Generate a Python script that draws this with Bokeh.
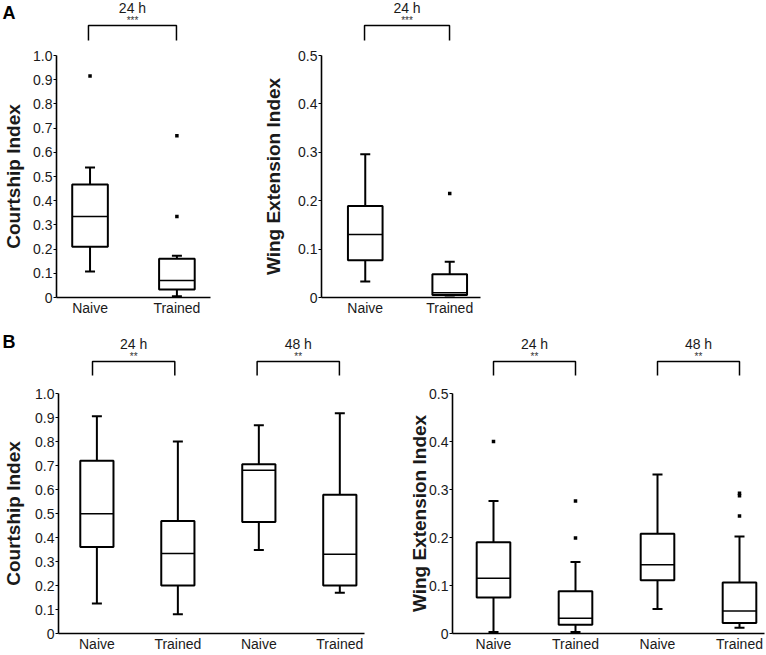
import numpy as np
from bokeh.plotting import figure
from bokeh.models import Range1d, FixedTicker, NumeralTickFormatter, Label, ColumnDataSource
from bokeh.transform import dodge
from bokeh.layouts import row, column
from bokeh.embed import file_html
from bokeh.resources import INLINE

# ---------------- data ----------------
# Panel A (24 h)
a_cats = ["Naive", "Trained"]
a_court_low = [0.107, 0.005]
a_court_q1 = [0.21, 0.033]
a_court_med = [0.335, 0.07]
a_court_q3 = [0.467, 0.16]
a_court_high = [0.537, 0.173]
a_court_out_cat = ["Naive", "Trained", "Trained"]
a_court_out_val = [0.915, 0.668, 0.335]

a_wing_low = [0.033, 0.004]
a_wing_q1 = [0.077, 0.005]
a_wing_med = [0.13, 0.01]
a_wing_q3 = [0.189, 0.048]
a_wing_high = [0.296, 0.074]
a_wing_out_cat = ["Trained"]
a_wing_out_val = [0.215]

a_groups = ["24 h"]
a_sig = ["***"]

# Panel B (24 h, 48 h)
b_cats = ["Naive", "Trained", "Naive", "Trained"]
b_court_low = [0.125, 0.08, 0.348, 0.17]
b_court_q1 = [0.36, 0.2, 0.465, 0.2]
b_court_med = [0.499, 0.333, 0.68, 0.33]
b_court_q3 = [0.72, 0.469, 0.705, 0.578]
b_court_high = [0.905, 0.80, 0.868, 0.918]
b_court_out_idx = []
b_court_out_val = []

b_wing_low = [0.003, 0.003, 0.051, 0.012]
b_wing_q1 = [0.075, 0.018, 0.111, 0.022]
b_wing_med = [0.115, 0.032, 0.143, 0.047]
b_wing_q3 = [0.19, 0.088, 0.208, 0.106]
b_wing_high = [0.276, 0.149, 0.331, 0.202]
b_wing_out_idx = [0, 1, 1, 3, 3, 3]
b_wing_out_val = [0.40, 0.199, 0.276, 0.245, 0.287, 0.292]

b_groups = ["24 h", "48 h"]
b_sig = ["**", "**"]

court_ticks = [0, 0.1, 0.2, 0.3, 0.4, 0.5, 0.6, 0.7, 0.8, 0.9, 1.0]
wing_ticks = [0, 0.1, 0.2, 0.3, 0.4, 0.5]

FONT = "Liberation Sans"
TXT = "#1a1a1a"


def panel(W, bl, br, bt, bb, strip_h, ppu, x_start, ppc, frame_w,
          cats, low, q1, med, q3, high, out_pos, out_val, ticks, ymax,
          ylabel, ylab_standoff, groups, sigs, lev, letter=None, letter_lev=None):
    """Returns (strip, main) figures sharing the same horizontal mapping."""
    x_end = x_start + frame_w / ppc
    frame_h = int(round(ppu))
    H = bt + frame_h + bb

    p = figure(width=W, height=H, x_range=Range1d(x_start, x_end),
               y_range=Range1d(0, ymax), output_backend="svg",
               toolbar_location=None, min_border_left=bl, min_border_right=br,
               min_border_top=bt, min_border_bottom=bb)
    p.outline_line_color = None
    p.grid.visible = False

    pos = list(np.arange(len(cats)) + 1)
    xa = p.xaxis[0]
    xa.ticker = FixedTicker(ticks=pos)
    xa.major_label_overrides = {int(k): c for k, c in zip(pos, cats)}
    xa.major_tick_line_color = None
    xa.major_tick_out = 0
    xa.major_tick_in = 0
    xa.minor_tick_line_color = None
    xa.axis_line_width = 1.6
    xa.axis_line_color = "black"
    xa.major_label_text_font = FONT
    xa.major_label_text_font_size = "14px"
    xa.major_label_text_color = TXT
    xa.major_label_standoff = 2

    ya = p.yaxis[0]
    ya.ticker = FixedTicker(ticks=ticks)
    ya.formatter = NumeralTickFormatter(format="0.0")
    ya.major_label_overrides = {0: "0"}
    ya.minor_tick_line_color = None
    ya.major_tick_in = 0
    ya.major_tick_out = 3
    ya.major_tick_line_width = 1
    ya.axis_line_width = 1.6
    ya.axis_line_color = "black"
    ya.major_label_text_font = FONT
    ya.major_label_text_font_size = "14px"
    ya.major_label_text_color = TXT
    ya.major_label_standoff = 1
    ya.axis_label = ylabel
    ya.axis_label_text_font = FONT
    ya.axis_label_text_font_style = "bold"
    ya.axis_label_text_font_size = "19px"
    ya.axis_label_text_color = TXT
    ya.axis_label_standoff = ylab_standoff

    src = ColumnDataSource(dict(x=pos, low=low, q1=q1, med=med, q3=q3, high=high))
    p.segment(x0="x", y0="q3", x1="x", y1="high", source=src,
              line_color="black", line_width=2)
    p.segment(x0="x", y0="q1", x1="x", y1="low", source=src,
              line_color="black", line_width=2)
    p.scatter(x="x", y="high", source=src, marker="dash", size=10,
              line_color="black", line_width=2)
    p.scatter(x="x", y="low", source=src, marker="dash", size=10,
              line_color="black", line_width=2)
    p.vbar(x="x", width=0.41, bottom="q1", top="q3", source=src,
           fill_color="white", line_color="black", line_width=2)
    p.segment(x0=dodge("x", -0.205), y0="med", x1=dodge("x", 0.205), y1="med",
              source=src, line_color="black", line_width=1.5)
    if len(out_val):
        p.scatter(x=[pos[i] for i in out_pos], y=out_val, marker="square",
                  size=3.5, fill_color="black", line_color=None)

    # strip above the plot for brackets / letters (same x mapping)
    s = figure(width=W, height=strip_h,
               x_range=Range1d(x_start - bl / ppc, x_end + br / ppc),
               y_range=Range1d(ymax * (1 + bt / ppu), ymax * (1 + (bt + strip_h) / ppu)),
               output_backend="svg", toolbar_location=None,
               x_axis_type=None, y_axis_type=None, min_border=0)
    s.outline_line_color = None
    s.grid.visible = False
    for gi, (g, sg) in enumerate(zip(groups, sigs)):
        xa_, xb_ = pos[2 * gi], pos[2 * gi + 1]
        yt = ymax * lev["top"]
        yb = ymax * lev["bot"]
        s.multi_line(xs=[[xa_, xa_, xb_, xb_]], ys=[[yb, yt, yt, yb]],
                     line_color="black", line_width=1.5)
        xm = (xa_ + xb_) / 2
        s.add_layout(Label(x=xm, y=ymax * lev["grp"], text=g, text_font=FONT,
                           text_font_size="14px", text_color=TXT,
                           text_align="center", text_baseline="middle"))
        s.add_layout(Label(x=xm, y=ymax * lev["sig"], text=sg, text_font=FONT,
                           text_font_size="10px", text_color="#333333",
                           text_align="center", text_baseline="middle"))
    if letter:
        s.add_layout(Label(x=x_start - (bl - 2) / ppc, y=ymax * letter_lev,
                           text=letter, text_font=FONT, text_font_style="bold",
                           text_font_size="18px", text_color="black",
                           text_align="left", text_baseline="middle"))
    return s, p


# vertical levels, as multiples of the axis maximum
levA = dict(top=1 + 30 / 242, bot=1 + 15 / 242, grp=1 + 48 / 242, sig=1 + 35 / 242)
levB = dict(top=1 + 32 / 240, bot=1 + 18 / 240, grp=1 + 50 / 240, sig=1 + 37 / 240)

s1, p1 = panel(260, 54, 50, 8, 22, 47, 242, 0.614, 88.0, 156,
               a_cats, a_court_low, a_court_q1, a_court_med, a_court_q3, a_court_high,
               [a_cats.index(c) for c in a_court_out_cat], a_court_out_val,
               court_ticks, 1.0, "Courtship Index", 6,
               a_groups, a_sig, levA, "A", 1 + 43 / 242)
s2, p2 = panel(230, 60, 10, 8, 22, 47, 242, 0.482, 85.0, 160,
               a_cats, a_wing_low, a_wing_q1, a_wing_med, a_wing_q3, a_wing_high,
               [a_cats.index(c) for c in a_wing_out_cat], a_wing_out_val,
               wing_ticks, 0.5, "Wing Extension Index", 11,
               a_groups, a_sig, levA)
s3, p3 = panel(390, 53, 26, 8, 22, 66, 240, 0.526, 82.3, 311,
               b_cats, b_court_low, b_court_q1, b_court_med, b_court_q3, b_court_high,
               b_court_out_idx, b_court_out_val,
               court_ticks, 1.0, "Courtship Index", 8,
               b_groups, b_sig, levB, "B", 1 + 52 / 240)
s4, p4 = panel(376, 62, 2, 8, 22, 66, 240, 0.5, 82.0, 312,
               b_cats, b_wing_low, b_wing_q1, b_wing_med, b_wing_q3, b_wing_high,
               b_wing_out_idx, b_wing_out_val,
               wing_ticks, 0.5, "Wing Extension Index", -4,
               b_groups, b_sig, levB)

layout = column(row(s1, s2), row(p1, p2), row(s3, s4), row(p3, p4))
open("out.html", "w").write(file_html(layout, INLINE))
